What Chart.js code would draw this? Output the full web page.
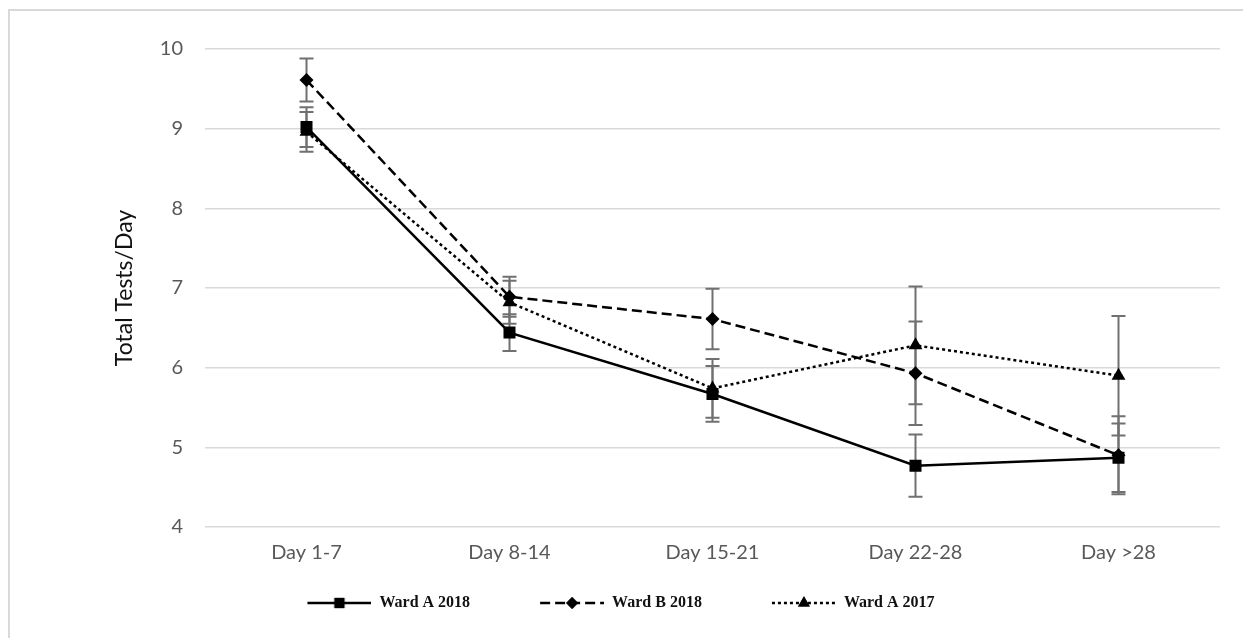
<!DOCTYPE html>
<html>
<head>
<meta charset="utf-8">
<script src="https://cdn.jsdelivr.net/npm/chart.js@4.4.1/dist/chart.umd.min.js"></script>
<style>
html,body{margin:0;padding:0;background:#fff;width:1243px;height:638px;overflow:hidden;}
#frame{position:absolute;left:8px;top:9px;width:1235px;height:629px;border-top:2px solid #d9d9d9;border-left:2px solid #d9d9d9;box-sizing:border-box;}
#wrap{position:absolute;left:0;top:0;width:1243px;height:638px;}
</style>
</head>
<body>
<div id="frame"></div>
<div id="wrap"><canvas id="c" width="1243" height="638"></canvas></div>
<script>
const categories = ['Day 1-7', 'Day 8-14', 'Day 15-21', 'Day 22-28', 'Day >28'];
const seriesNames = ['Ward A 2018', 'Ward B 2018', 'Ward A 2017'];
const wardA2018 = [9.02, 6.44, 5.67, 4.77, 4.87];
const wardA2018Err = [0.25, 0.23, 0.35, 0.39, 0.43];
const wardB2018 = [9.61, 6.89, 6.61, 5.93, 4.90];
const wardB2018Err = [0.27, 0.25, 0.38, 0.65, 0.49];
const wardA2017 = [8.96, 6.82, 5.74, 6.28, 5.90];
const wardA2017Err = [0.25, 0.27, 0.37, 0.74, 0.75];
const yTicks = [4, 5, 6, 7, 8, 9, 10];

const styles = [
  {dash: [], point: 'rect', radius: 8.5},
  {dash: [10, 5], point: 'rectRot', radius: 7},
  {dash: [3, 3], point: 'triangle', radius: 8}
];

const LEG_GAP = 62, LEG_W = 64;
function legendImage(st) {
  const cv = document.createElement('canvas');
  cv.width = LEG_GAP + LEG_W; cv.height = 18;
  const c = cv.getContext('2d');
  c.strokeStyle = '#000'; c.lineWidth = 2.5; c.setLineDash(st.dash);
  c.beginPath(); c.moveTo(LEG_GAP, 9); c.lineTo(LEG_GAP + LEG_W, 9); c.stroke();
  c.setLineDash([]);
  c.fillStyle = '#000';
  Chart.helpers.drawPoint(c, {pointStyle: st.point, radius: st.radius * 0.85, rotation: 0, borderWidth: 0}, LEG_GAP + LEG_W / 2, 9);
  c.fill();
  return cv;
}

const errorBars = {
  id: 'errorBars',
  beforeDatasetsDraw(chart) {
    const ctx = chart.ctx;
    const y = chart.scales.y;
    ctx.save();
    ctx.strokeStyle = '#707070';
    ctx.lineWidth = 2;
    chart.data.datasets.forEach((ds, di) => {
      const meta = chart.getDatasetMeta(di);
      meta.data.forEach((pt, i) => {
        const v = ds.data[i], e = ds.errors[i];
        const x = pt.x;
        const yt = y.getPixelForValue(v + e), yb = y.getPixelForValue(v - e);
        ctx.beginPath();
        ctx.moveTo(x, yt); ctx.lineTo(x, yb);
        ctx.moveTo(x - 7, yt); ctx.lineTo(x + 7, yt);
        ctx.moveTo(x - 7, yb); ctx.lineTo(x + 7, yb);
        ctx.stroke();
      });
    });
    ctx.restore();
  }
};

const legendShift = {
  id: 'legendShift',
  afterLayout(chart) {
    const lg = chart.legend;
    if (!lg) return;
    lg.left -= 20; lg.right -= 20;
    lg.top += 8; lg.bottom += 8;
  }
};

const seriesData = [wardA2018, wardB2018, wardA2017];
const seriesErr = [wardA2018Err, wardB2018Err, wardA2017Err];

const datasets = seriesNames.map((name, i) => ({
  label: name,
  data: seriesData[i],
  errors: seriesErr[i],
  borderColor: '#000',
  backgroundColor: '#000',
  borderWidth: 2.5,
  borderDash: styles[i].dash,
  pointStyle: styles[i].point,
  pointRadius: styles[i].radius,
  pointBackgroundColor: '#000',
  pointBorderColor: '#000',
  pointBorderWidth: 0,
  tension: 0,
  fill: false
}));

new Chart(document.getElementById('c'), {
  type: 'line',
  data: {labels: categories, datasets: datasets},
  options: {
    responsive: false,
    animation: false,
    devicePixelRatio: 1,
    layout: {padding: {left: 0, right: 23, top: 49, bottom: 25}},
    plugins: {
      tooltip: {enabled: false},
      legend: {
        position: 'bottom',
        labels: {
          usePointStyle: true,
          pointStyleWidth: LEG_GAP + LEG_W,
          boxHeight: 16,
          padding: 8,
          color: '#111',
          font: {family: '"Liberation Serif", "Times New Roman", serif', size: 16, weight: 'bold'},
          generateLabels(chart) {
            return chart.data.datasets.map((ds, i) => ({
              text: ds.label,
              pointStyle: legendImage(styles[i]),
              fillStyle: '#000', strokeStyle: '#000', lineWidth: 0,
              fontColor: '#111',
              datasetIndex: i, hidden: false
            }));
          }
        }
      }
    },
    scales: {
      x: {
        offset: true,
        grid: {display: false, drawTicks: false},
        border: {display: false},
        ticks: {color: '#595959', padding: 14, font: {family: 'Lato', size: 20}}
      },
      y: {
        min: 4, max: 10,
        afterFit(scale) { scale.width = 205; },
        afterBuildTicks(scale) { scale.ticks = yTicks.map(v => ({value: v})); },
        grid: {color: '#d9d9d9', lineWidth: 1.5, drawTicks: false},
        border: {display: false},
        ticks: {color: '#595959', padding: 22, font: {family: 'Lato', size: 20}},
        title: {display: true, text: 'Total Tests/Day', color: '#111', padding: {top: 111, bottom: 0}, font: {family: 'Lato', size: 23}}
      }
    }
  },
  plugins: [errorBars, legendShift]
});
</script>
</body>
</html>
